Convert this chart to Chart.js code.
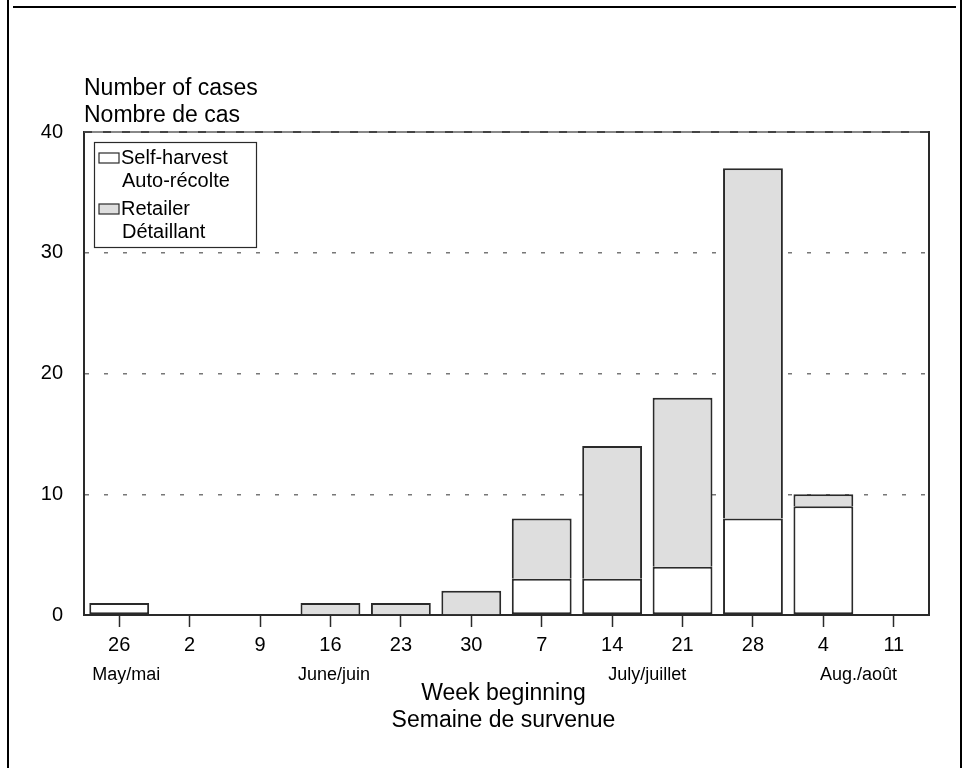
<!DOCTYPE html>
<html>
<head>
<meta charset="utf-8">
<script src="https://cdn.jsdelivr.net/npm/chart.js@4/dist/chart.umd.min.js"></script>
<style>
  html, body { margin: 0; padding: 0; background: #fff; }
  canvas { display: block; }
</style>
</head>
<body>
<canvas id="chart" width="967" height="768"></canvas>
<script>
// Weekly case counts by source of shellfish
const weeks = ['26', '2', '9', '16', '23', '30', '7', '14', '21', '28', '4', '11'];
const selfHarvest = [1, 0, 0, 0, 0, 0, 3, 3, 4, 8, 9, 0];
const retailer = [0, 0, 0, 1, 1, 2, 5, 11, 14, 29, 1, 0];
const months = ['May/mai', 'June/juin', 'July/juillet', 'Aug./août'];
const yTicks = [0, 10, 20, 30, 40];
const seriesNames = [['Self-harvest', 'Auto-récolte'], ['Retailer', 'Détaillant']];
const yTitle = ['Number of cases', 'Nombre de cas'];
const xTitle = ['Week beginning', 'Semaine de survenue'];

const FONT = '"Liberation Sans", Arial, Helvetica, sans-serif';
const EDGE = '#2a2a2a';
const FILLS = ['#ffffff', '#dedede'];

// Frame, plot borders, month names, axis titles and the boxed legend
const decorations = {
  id: 'decorations',
  afterDraw(chart) {
    const { ctx, chartArea: a, scales } = chart;
    const x = scales.x;
    ctx.save();

    // outer frame
    ctx.strokeStyle = '#000';
    ctx.lineWidth = 2;
    ctx.beginPath();
    ctx.moveTo(8, 0); ctx.lineTo(8, 768);
    ctx.moveTo(13, 7); ctx.lineTo(956, 7);
    ctx.moveTo(961, 0); ctx.lineTo(961, 768);
    ctx.stroke();

    // top edge of the plot: light rule with darker dashes over it
    ctx.lineWidth = 2;
    ctx.strokeStyle = '#888';
    ctx.beginPath();
    ctx.moveTo(a.left, a.top); ctx.lineTo(a.right, a.top);
    ctx.stroke();
    ctx.strokeStyle = '#444';
    ctx.setLineDash([8, 11]);
    ctx.beginPath();
    ctx.moveTo(a.left, a.top); ctx.lineTo(a.right, a.top);
    ctx.stroke();
    ctx.setLineDash([]);

    // right edge of the plot
    ctx.strokeStyle = EDGE;
    ctx.lineWidth = 2;
    ctx.beginPath();
    ctx.moveTo(a.right, a.top - 1); ctx.lineTo(a.right, a.bottom);
    ctx.stroke();

    ctx.fillStyle = '#000';

    // month names under the week numbers
    const monthAnchor = [0.1, 3.05, 7.5, 10.5];
    ctx.font = '18px ' + FONT;
    ctx.textAlign = 'center';
    ctx.textBaseline = 'middle';
    months.forEach((m, i) => {
      ctx.fillText(m, x.getPixelForValue(monthAnchor[i]), 675);
    });

    // axis titles
    ctx.font = '23px ' + FONT;
    ctx.textAlign = 'center';
    ctx.textBaseline = 'alphabetic';
    const cx = (a.left + a.right) / 2 - 3;
    ctx.fillText(xTitle[0], cx, 700);
    ctx.fillText(xTitle[1], cx, 727);
    ctx.textAlign = 'left';
    ctx.fillText(yTitle[0], 84, 95);
    ctx.fillText(yTitle[1], 84, 122);

    // legend
    const lx = 94, ly = 142, lw = 162, lh = 105;
    ctx.fillStyle = '#fff';
    ctx.fillRect(lx, ly, lw, lh);
    ctx.strokeStyle = EDGE;
    ctx.lineWidth = 1.2;
    ctx.strokeRect(lx + 0.5, ly + 0.5, lw, lh);
    const rows = [158, 209];
    ctx.font = '20px ' + FONT;
    ctx.textBaseline = 'middle';
    seriesNames.forEach((names, i) => {
      const y0 = rows[i];
      ctx.fillStyle = FILLS[i];
      ctx.fillRect(99, y0 - 5, 20, 10);
      ctx.strokeStyle = EDGE;
      ctx.lineWidth = 1.2;
      ctx.strokeRect(99, y0 - 5, 20, 10);
      ctx.fillStyle = '#000';
      ctx.textAlign = 'left';
      ctx.fillText(names[0], 121, y0);
      ctx.fillText(names[1], 122, y0 + 23);
    });

    ctx.restore();
  }
};

new Chart(document.getElementById('chart'), {
  type: 'bar',
  data: {
    labels: weeks,
    datasets: [
      {
        label: seriesNames[0].join(' / '),
        data: selfHarvest,
        backgroundColor: FILLS[0],
        borderColor: EDGE,
        borderWidth: 2,
        borderSkipped: false
      },
      {
        // upper segment shares its lower edge with the segment below
        label: seriesNames[1].join(' / '),
        data: retailer,
        backgroundColor: FILLS[1],
        borderColor: EDGE,
        borderWidth: 2,
        borderSkipped: 'start'
      }
    ]
  },
  options: {
    responsive: false,
    animation: false,
    events: [],
    layout: { padding: { top: 132, right: 38, left: 0, bottom: 0 } },
    datasets: { bar: { barPercentage: 0.85, categoryPercentage: 1 } },
    plugins: { legend: { display: false }, tooltip: { enabled: false } },
    scales: {
      x: {
        stacked: true,
        afterFit(s) { s.height = 153; },
        grid: {
          offset: false,
          drawOnChartArea: false,
          drawTicks: true,
          tickLength: 12,
          tickColor: EDGE,
          tickWidth: 1.5
        },
        border: { display: true, color: EDGE, width: 2 },
        ticks: {
          color: '#000',
          font: { family: FONT, size: 20 },
          padding: 6,
          maxRotation: 0,
          autoSkip: false
        }
      },
      y: {
        stacked: true,
        min: yTicks[0],
        max: yTicks[yTicks.length - 1],
        afterFit(s) { s.width = 84; },
        afterBuildTicks(s) { s.ticks = yTicks.map(v => ({ value: v })); },
        grid: {
          drawTicks: false,
          color: (c) => (c.tick && c.tick.value > 0 && c.tick.value < 40) ? '#777' : 'rgba(0,0,0,0)',
          lineWidth: 1.5
        },
        border: { display: true, color: EDGE, width: 2, dash: [4, 15] },
        ticks: {
          color: '#000',
          font: { family: FONT, size: 20 },
          padding: 21
        }
      }
    }
  },
  plugins: [decorations]
});
</script>
</body>
</html>
